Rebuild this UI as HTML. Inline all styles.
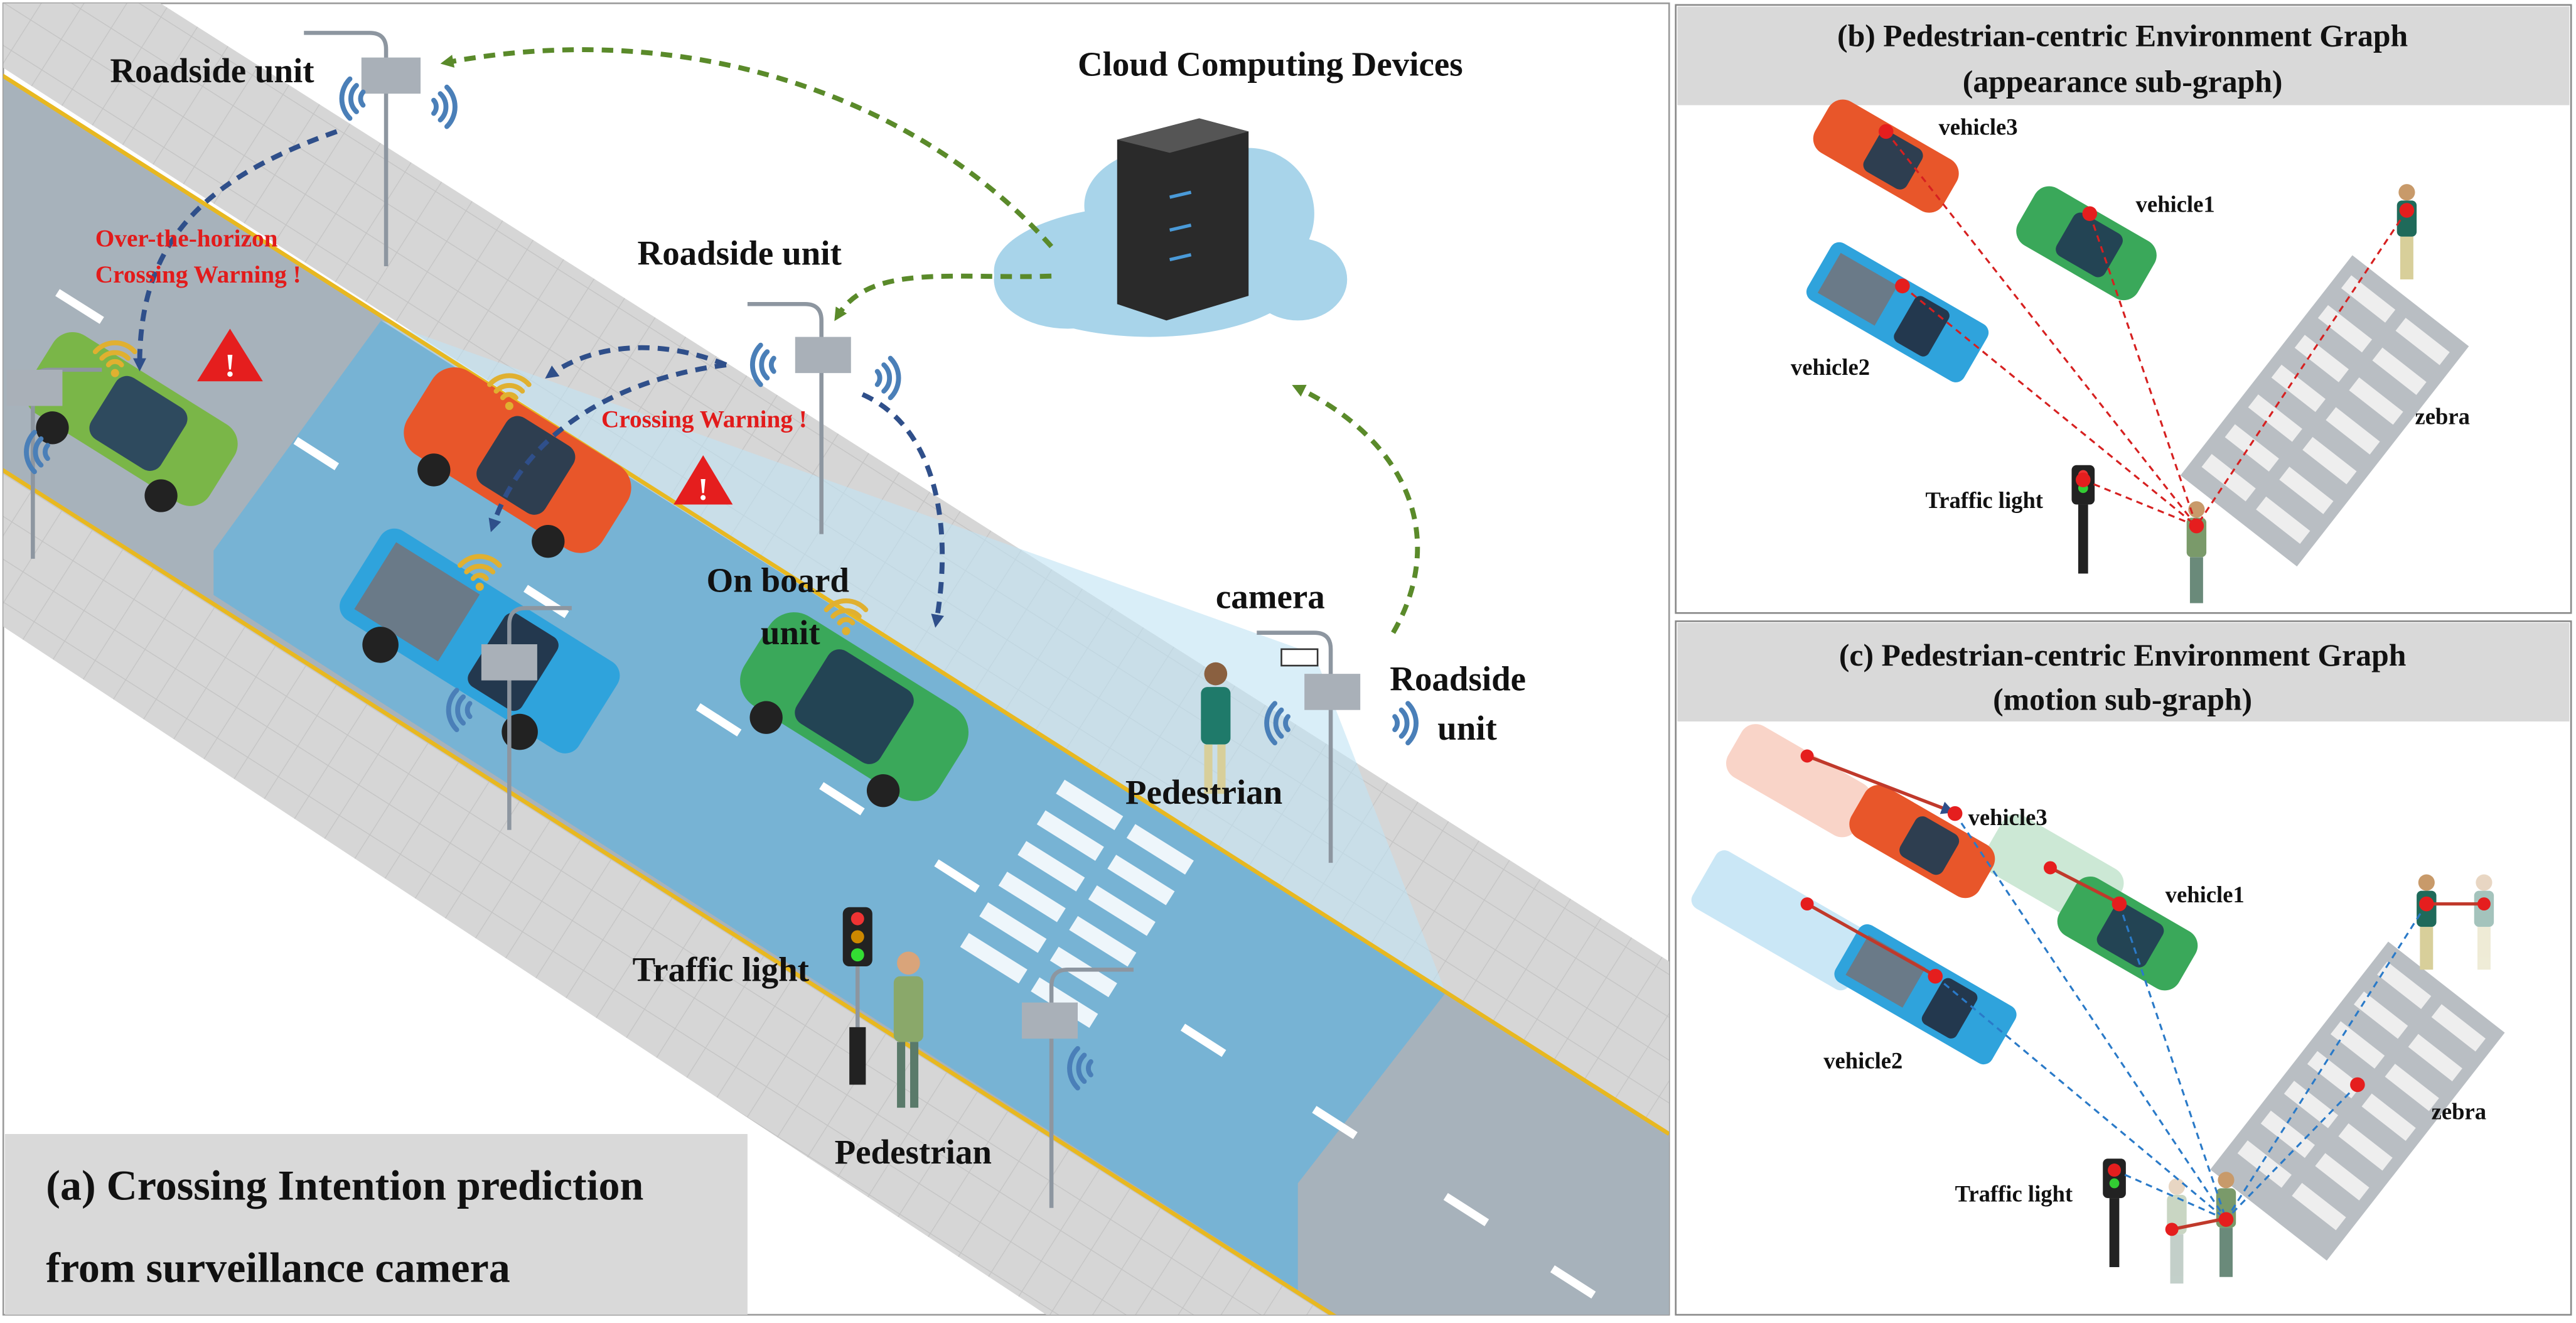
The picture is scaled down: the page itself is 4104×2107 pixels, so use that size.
<!DOCTYPE html>
<html><head><meta charset="utf-8"><style>
html,body{margin:0;padding:0;background:#fff;width:4104px;height:2107px;overflow:hidden}
svg{display:block}
text{font-family:"Liberation Serif",serif;font-weight:bold}
</style></head><body>
<svg width="4104" height="2107" viewBox="0 0 1568 805" preserveAspectRatio="none" xmlns="http://www.w3.org/2000/svg">
<defs>
<marker id="ag" markerWidth="8" markerHeight="8" refX="4" refY="4" orient="auto" markerUnits="userSpaceOnUse"><path d="M0,0 L8,4 L0,8 z" fill="#5a8a2a"/></marker>
<marker id="ab" markerWidth="8" markerHeight="8" refX="4" refY="4" orient="auto" markerUnits="userSpaceOnUse"><path d="M0,0 L8,4 L0,8 z" fill="#2f4f8a"/></marker>
<clipPath id="ca"><rect x="2" y="2" width="1014" height="798"/></clipPath>
<pattern id="tile" width="22" height="22" patternUnits="userSpaceOnUse" patternTransform="rotate(32.4)"><rect width="22" height="22" fill="#d6d6d6"/><path d="M0,0 H22 M0,0 V22" stroke="#c4c4c4" stroke-width="1"/></pattern>
<g id="wifi" fill="none" stroke-linecap="round"><path d="M-4,-4 A6,6 0 0 0 -4,4" stroke-width="3"/><path d="M-8,-8 A11,11 0 0 0 -8,8" stroke-width="3"/><path d="M-12,-12 A17,17 0 0 0 -12,12" stroke-width="3"/></g>
<g id="sig" fill="none" stroke="#e0b030" stroke-linecap="round"><path d="M-4,-3 A5,5 0 0 1 4,-3" stroke-width="3"/><path d="M-8,-7 A11,11 0 0 1 8,-7" stroke-width="3"/><path d="M-12,-11 A16,16 0 0 1 12,-11" stroke-width="3"/><circle cx="0" cy="2" r="2.5" fill="#e0b030" stroke="none"/></g>
</defs>

<!-- panel (a) -->
<rect x="2" y="2" width="1014" height="798" fill="#fff" stroke="#999" stroke-width="1"/>
<g clip-path="url(#ca)">
 <polygon points="0,-60 1016,585 1016,695 0,40" fill="url(#tile)"/>
 <polygon points="0,285 1016,930 1016,1050 0,380" fill="url(#tile)"/>
 <polygon points="0,45 1016,690 1016,930 0,285" fill="#a7b2bb"/>
 <polygon points="232,195 880,604 790,720 790,785 130,362 130,335" fill="#6fb3d8" opacity="0.85"/>
 <polygon points="232,195 800,398 880,604" fill="#bfe2f3" opacity="0.6"/>
 <line x1="0" y1="45" x2="1016" y2="690" stroke="#e8b820" stroke-width="2.5"/>
 <line x1="0" y1="285" x2="1016" y2="930" stroke="#e8b820" stroke-width="2.5"/>
 <g stroke="#fff" stroke-width="5">
  <line x1="35" y1="178" x2="62" y2="195"/><line x1="180" y1="268" x2="205" y2="284"/>
  <line x1="320" y1="358" x2="345" y2="374"/><line x1="425" y1="430" x2="450" y2="446"/>
  <line x1="500" y1="478" x2="525" y2="494"/><line x1="570" y1="525" x2="595" y2="541"/>
  <line x1="720" y1="625" x2="745" y2="641"/><line x1="800" y1="675" x2="825" y2="691"/>
  <line x1="880" y1="728" x2="905" y2="744"/><line x1="945" y1="772" x2="970" y2="788"/>
 </g>
 <g fill="#eef6fb">
  <g transform="translate(665,485) rotate(32)"><rect x="-20" y="0" width="42" height="10"/><rect x="-20" y="22" width="42" height="10"/><rect x="-20" y="44" width="42" height="10"/><rect x="-20" y="66" width="42" height="10"/><rect x="-20" y="88" width="42" height="10"/><rect x="-20" y="110" width="42" height="10"/></g>
  <g transform="translate(708,512) rotate(32)"><rect x="-20" y="0" width="42" height="10"/><rect x="-20" y="22" width="42" height="10"/><rect x="-20" y="44" width="42" height="10"/><rect x="-20" y="66" width="42" height="10"/><rect x="-20" y="88" width="42" height="10"/><rect x="-20" y="110" width="42" height="10"/></g>
 </g>
 <g transform="translate(80,255) rotate(32)"><rect x="-65" y="-28" width="130" height="56" rx="14" fill="#7ab648"/><rect x="-20" y="-22" width="50" height="44" rx="8" fill="#2e4a5e"/><circle cx="-38" cy="30" r="10" fill="#222"/><circle cx="40" cy="30" r="10" fill="#222"/></g>
 <g transform="translate(315,280) rotate(32)"><rect x="-70" y="-30" width="140" height="60" rx="16" fill="#e8562a"/><rect x="-18" y="-24" width="48" height="48" rx="8" fill="#2e3e50"/><circle cx="-40" cy="32" r="10" fill="#222"/><circle cx="42" cy="32" r="10" fill="#222"/></g>
 <g transform="translate(292,390) rotate(32)"><rect x="-85" y="-32" width="170" height="64" rx="10" fill="#2fa3dc"/><rect x="-75" y="-24" width="60" height="48" fill="#6a7a88"/><rect x="5" y="-26" width="38" height="52" rx="6" fill="#23384e"/><circle cx="-50" cy="34" r="11" fill="#222"/><circle cx="50" cy="34" r="11" fill="#222"/></g>
 <g transform="translate(520,430) rotate(32)"><rect x="-70" y="-32" width="140" height="64" rx="18" fill="#3aa85a"/><rect x="-30" y="-26" width="60" height="52" rx="8" fill="#234454"/><circle cx="-42" cy="34" r="10" fill="#222"/><circle cx="42" cy="34" r="10" fill="#222"/></g>
 <use href="#sig" x="70" y="225"/><use href="#sig" x="310" y="245"/><use href="#sig" x="292" y="355"/><use href="#sig" x="515" y="382"/>
 <g><polygon points="140,200 120,232 160,232" fill="#e51e1e"/><text x="140" y="229" font-size="20" fill="#fff" text-anchor="middle">!</text></g>
 <g><polygon points="428,277 410,307 446,307" fill="#e51e1e"/><text x="428" y="304" font-size="19" fill="#fff" text-anchor="middle">!</text></g>
 <g stroke="#8d96a0" stroke-width="2.5" fill="none">
  <path d="M235,162 V30 Q235,20 225,20 H185"/><path d="M500,325 V195 Q500,185 490,185 H455"/>
  <path d="M20,340 V235 Q20,225 30,225 H62"/><path d="M310,505 V380 Q310,370 320,370 H348"/>
  <path d="M810,525 V395 Q810,385 800,385 H765"/><path d="M640,735 V600 Q640,590 650,590 H690"/>
  <path d="M522,655 V560"/>
 </g>
 <g fill="#a9b0b8"><rect x="220" y="35" width="36" height="22"/><rect x="484" y="205" width="34" height="22"/><rect x="4" y="225" width="34" height="22"/><rect x="293" y="392" width="34" height="22"/><rect x="794" y="410" width="34" height="22"/><rect x="622" y="610" width="34" height="22"/></g>
 <rect x="780" y="395" width="22" height="10" fill="#fff" stroke="#333"/>
 <g stroke="#4a7fb8"><use href="#wifi" x="225" y="60"/><use href="#wifi" x="475" y="222" /><use href="#wifi" x="33" y="275"/><use href="#wifi" x="290" y="432"/><use href="#wifi" x="788" y="440"/><use href="#wifi" x="668" y="650"/></g>
 <g stroke="#4a7fb8" transform="translate(260,65) scale(-1,1)"><use href="#wifi"/></g>
 <g stroke="#4a7fb8" transform="translate(530,230) scale(-1,1)"><use href="#wifi"/></g>
 <g stroke="#4a7fb8" transform="translate(845,440) scale(-1,1)"><use href="#wifi"/></g>
 <rect x="513" y="552" width="18" height="36" rx="4" fill="#222"/><circle cx="522" cy="559" r="4" fill="#e33"/><circle cx="522" cy="570" r="4" fill="#c80"/><circle cx="522" cy="581" r="4" fill="#3d3"/>
 <rect x="517" y="625" width="10" height="35" fill="#222"/>
 <g><circle cx="553" cy="586" r="7" fill="#d9a47a"/><rect x="544" y="594" width="18" height="40" rx="4" fill="#8aa86a"/><rect x="546" y="634" width="5" height="40" fill="#5a7a6a"/><rect x="554" y="634" width="5" height="40" fill="#5a7a6a"/></g>
 <g><circle cx="740" cy="410" r="7" fill="#8a6040"/><rect x="731" y="418" width="18" height="35" rx="4" fill="#1f7a6a"/><rect x="733" y="453" width="5" height="30" fill="#d8cf9a"/><rect x="741" y="453" width="5" height="30" fill="#d8cf9a"/></g>
 <g fill="#a8d4ea"><ellipse cx="700" cy="165" rx="95" ry="40"/><ellipse cx="650" cy="170" rx="45" ry="30"/><ellipse cx="760" cy="130" rx="40" ry="40"/><ellipse cx="710" cy="125" rx="50" ry="35"/><ellipse cx="790" cy="170" rx="30" ry="25"/></g>
 <polygon points="680,85 730,72 760,80 760,180 710,195 680,185" fill="#2a2a2a"/>
 <polygon points="680,85 730,72 760,80 712,93" fill="#555"/>
 <g stroke="#4a9ad8" stroke-width="2"><line x1="712" y1="120" x2="725" y2="117"/><line x1="712" y1="140" x2="725" y2="137"/><line x1="712" y1="158" x2="725" y2="155"/></g>
 <g fill="none" stroke-dasharray="7,5" stroke-width="3">
  <path d="M640,150 C560,60 420,10 272,38" stroke="#5a8a2a" marker-end="url(#ag)"/>
  <path d="M640,168 C580,170 530,160 510,192" stroke="#5a8a2a" marker-end="url(#ag)"/>
  <path d="M848,385 C880,330 860,270 790,236" stroke="#5a8a2a" marker-end="url(#ag)"/>
  <path d="M205,80 C120,110 85,150 85,222" stroke="#2f4f8a" marker-end="url(#ab)"/>
  <path d="M442,222 C400,205 360,210 335,228" stroke="#2f4f8a" marker-end="url(#ab)"/>
  <path d="M442,222 C380,230 320,260 300,320" stroke="#2f4f8a" marker-end="url(#ab)"/>
  <path d="M525,240 C570,260 580,320 570,378" stroke="#2f4f8a" marker-end="url(#ab)"/>
 </g>
 <g font-size="21" fill="#111">
  <text x="67" y="50">Roadside unit</text>
  <text x="656" y="46">Cloud Computing Devices</text>
  <text x="388" y="161">Roadside unit</text>
  <text x="430" y="360">On board</text><text x="463" y="392">unit</text>
  <text x="740" y="370">camera</text>
  <text x="846" y="420">Roadside</text><text x="875" y="450">unit</text>
  <text x="685" y="489">Pedestrian</text>
  <text x="385" y="597">Traffic light</text>
  <text x="508" y="708">Pedestrian</text>
 </g>
 <g font-size="15" fill="#e21b1b"><text x="58" y="150">Over-the-horizon</text><text x="58" y="172">Crossing Warning !</text><text x="366" y="260">Crossing Warning !</text></g>
 <rect x="3" y="690" width="452" height="112" fill="#d9d9d9"/>
 <text x="28" y="730" font-size="26" fill="#111">(a) Crossing Intention prediction</text>
 <text x="28" y="780" font-size="26" fill="#111">from surveillance camera</text>
</g>

<!-- panel (b) -->
<rect x="1020" y="3" width="545" height="370" fill="#fff" stroke="#888" stroke-width="1"/>
<rect x="1021" y="4" width="543" height="60" fill="#d9d9d9"/>
<text x="1292" y="28" font-size="19" text-anchor="middle" fill="#111">(b) Pedestrian-centric Environment Graph</text>
<text x="1292" y="56" font-size="19" text-anchor="middle" fill="#111">(appearance sub-graph)</text>
<g transform="translate(1148,95) rotate(30)"><rect x="-45" y="-18" width="90" height="36" rx="10" fill="#e8562a"/><rect x="-10" y="-14" width="30" height="28" rx="5" fill="#2e3e50"/></g>
<g transform="translate(1270,148) rotate(30)"><rect x="-42" y="-20" width="84" height="40" rx="10" fill="#3aa85a"/><rect x="-15" y="-15" width="34" height="30" rx="5" fill="#234454"/></g>
<g transform="translate(1155,190) rotate(30)"><rect x="-55" y="-20" width="110" height="40" rx="6" fill="#2fa3dc"/><rect x="-48" y="-14" width="40" height="28" fill="#6a7a88"/><rect x="5" y="-16" width="24" height="32" rx="4" fill="#23384e"/></g>
<g transform="translate(1415,250) rotate(38)"><rect x="-45" y="-85" width="90" height="170" fill="#b9bec3"/><g fill="#eee"><rect x="-38" y="-75" width="34" height="10"/><rect x="4" y="-75" width="34" height="10"/><rect x="-38" y="-52" width="34" height="10"/><rect x="4" y="-52" width="34" height="10"/><rect x="-38" y="-29" width="34" height="10"/><rect x="4" y="-29" width="34" height="10"/><rect x="-38" y="-6" width="34" height="10"/><rect x="4" y="-6" width="34" height="10"/><rect x="-38" y="17" width="34" height="10"/><rect x="4" y="17" width="34" height="10"/><rect x="-38" y="40" width="34" height="10"/><rect x="4" y="40" width="34" height="10"/><rect x="-38" y="63" width="34" height="10"/><rect x="4" y="63" width="34" height="10"/></g></g>
<rect x="1261" y="283" width="14" height="24" rx="3" fill="#222"/><circle cx="1268" cy="289" r="3" fill="#e33"/><circle cx="1268" cy="297" r="3" fill="#3c3"/><rect x="1265" y="307" width="6" height="42" fill="#222"/>
<g><circle cx="1465" cy="117" r="5" fill="#c89a6a"/><rect x="1459" y="122" width="12" height="22" rx="3" fill="#1f6a5a"/><rect x="1461" y="144" width="8" height="26" fill="#d8cf9a"/></g>
<g><circle cx="1337" cy="310" r="5" fill="#c89a6a"/><rect x="1331" y="315" width="12" height="24" rx="3" fill="#7a9a6a"/><rect x="1333" y="339" width="8" height="28" fill="#6a8a7a"/></g>
<g stroke="#d62020" stroke-width="1.2" stroke-dasharray="4,3"><line x1="1148" y1="80" x2="1337" y2="320"/><line x1="1272" y1="130" x2="1337" y2="320"/><line x1="1158" y1="174" x2="1337" y2="320"/><line x1="1465" y1="128" x2="1337" y2="320"/><line x1="1268" y1="292" x2="1337" y2="320"/></g>
<g fill="#e51e1e"><circle cx="1148" cy="80" r="4.5"/><circle cx="1272" cy="130" r="4.5"/><circle cx="1158" cy="174" r="4.5"/><circle cx="1465" cy="128" r="4.5"/><circle cx="1268" cy="292" r="4.5"/><circle cx="1337" cy="320" r="4.5"/></g>
<g font-size="14" fill="#111"><text x="1180" y="82">vehicle3</text><text x="1300" y="129">vehicle1</text><text x="1090" y="228">vehicle2</text><text x="1470" y="258">zebra</text><text x="1172" y="309">Traffic light</text></g>

<!-- panel (c) -->
<rect x="1020" y="378" width="545" height="422" fill="#fff" stroke="#888" stroke-width="1"/>
<rect x="1021" y="379" width="543" height="60" fill="#d9d9d9"/>
<text x="1292" y="405" font-size="19" text-anchor="middle" fill="#111">(c) Pedestrian-centric Environment Graph</text>
<text x="1292" y="432" font-size="19" text-anchor="middle" fill="#111">(motion sub-graph)</text>
<g opacity="0.25"><g transform="translate(1095,475) rotate(30)"><rect x="-45" y="-18" width="90" height="36" rx="10" fill="#e8562a"/></g><g transform="translate(1250,530) rotate(30)"><rect x="-42" y="-20" width="84" height="40" rx="10" fill="#3aa85a"/></g><g transform="translate(1085,560) rotate(30)"><rect x="-55" y="-20" width="110" height="40" rx="6" fill="#2fa3dc"/></g></g>
<g transform="translate(1170,512) rotate(30)"><rect x="-45" y="-18" width="90" height="36" rx="10" fill="#e8562a"/><rect x="-10" y="-14" width="30" height="28" rx="5" fill="#2e3e50"/></g>
<g transform="translate(1295,568) rotate(30)"><rect x="-42" y="-20" width="84" height="40" rx="10" fill="#3aa85a"/><rect x="-15" y="-15" width="34" height="30" rx="5" fill="#234454"/></g>
<g transform="translate(1172,605) rotate(30)"><rect x="-55" y="-20" width="110" height="40" rx="6" fill="#2fa3dc"/><rect x="-48" y="-14" width="40" height="28" fill="#6a7a88"/><rect x="5" y="-16" width="24" height="32" rx="4" fill="#23384e"/></g>
<g transform="translate(1435,670) rotate(38)"><rect x="-45" y="-88" width="90" height="176" fill="#b9bec3"/><g fill="#eee"><rect x="-38" y="-78" width="34" height="10"/><rect x="4" y="-78" width="34" height="10"/><rect x="-38" y="-55" width="34" height="10"/><rect x="4" y="-55" width="34" height="10"/><rect x="-38" y="-32" width="34" height="10"/><rect x="4" y="-32" width="34" height="10"/><rect x="-38" y="-9" width="34" height="10"/><rect x="4" y="-9" width="34" height="10"/><rect x="-38" y="14" width="34" height="10"/><rect x="4" y="14" width="34" height="10"/><rect x="-38" y="37" width="34" height="10"/><rect x="4" y="37" width="34" height="10"/><rect x="-38" y="60" width="34" height="10"/><rect x="4" y="60" width="34" height="10"/></g></g>
<rect x="1280" y="705" width="14" height="24" rx="3" fill="#222"/><circle cx="1287" cy="711" r="3" fill="#e33"/><circle cx="1287" cy="720" r="3" fill="#3c3"/><rect x="1284" y="729" width="6" height="42" fill="#222"/>
<g><circle cx="1477" cy="537" r="5" fill="#c89a6a"/><rect x="1471" y="542" width="12" height="22" rx="3" fill="#1f6a5a"/><rect x="1473" y="564" width="8" height="26" fill="#d8cf9a"/></g>
<g opacity="0.4"><circle cx="1512" cy="537" r="5" fill="#c89a6a"/><rect x="1506" y="542" width="12" height="22" rx="3" fill="#1f6a5a"/><rect x="1508" y="564" width="8" height="26" fill="#d8cf9a"/></g>
<g><circle cx="1355" cy="718" r="5" fill="#c89a6a"/><rect x="1349" y="723" width="12" height="24" rx="3" fill="#7a9a6a"/><rect x="1351" y="747" width="8" height="30" fill="#6a8a7a"/></g>
<g opacity="0.4"><circle cx="1325" cy="722" r="5" fill="#c89a6a"/><rect x="1319" y="727" width="12" height="24" rx="3" fill="#7a9a6a"/><rect x="1321" y="751" width="8" height="30" fill="#6a8a7a"/></g>
<g stroke="#2a7ac8" stroke-width="1.2" stroke-dasharray="4,3"><line x1="1190" y1="495" x2="1355" y2="742"/><line x1="1290" y1="550" x2="1355" y2="742"/><line x1="1178" y1="594" x2="1355" y2="742"/><line x1="1477" y1="550" x2="1355" y2="742"/><line x1="1435" y1="660" x2="1355" y2="742"/><line x1="1287" y1="712" x2="1355" y2="742"/></g>
<g stroke="#c0392b" stroke-width="2"><line x1="1100" y1="460" x2="1186" y2="493" marker-end="url(#ab)"/><line x1="1248" y1="528" x2="1287" y2="548"/><line x1="1100" y1="550" x2="1175" y2="592"/><line x1="1512" y1="550" x2="1480" y2="550"/><line x1="1322" y1="748" x2="1352" y2="742"/></g>
<g fill="#e51e1e"><circle cx="1100" cy="460" r="4"/><circle cx="1190" cy="495" r="4.5"/><circle cx="1248" cy="528" r="4"/><circle cx="1290" cy="550" r="4.5"/><circle cx="1100" cy="550" r="4"/><circle cx="1178" cy="594" r="4.5"/><circle cx="1512" cy="550" r="4"/><circle cx="1477" cy="550" r="4.5"/><circle cx="1435" cy="660" r="4.5"/><circle cx="1287" cy="712" r="4"/><circle cx="1322" cy="748" r="4"/><circle cx="1355" cy="742" r="4.5"/></g>
<g font-size="14" fill="#111"><text x="1198" y="502">vehicle3</text><text x="1318" y="549">vehicle1</text><text x="1110" y="650">vehicle2</text><text x="1480" y="681">zebra</text><text x="1190" y="731">Traffic light</text></g>
</svg>
</body></html>
